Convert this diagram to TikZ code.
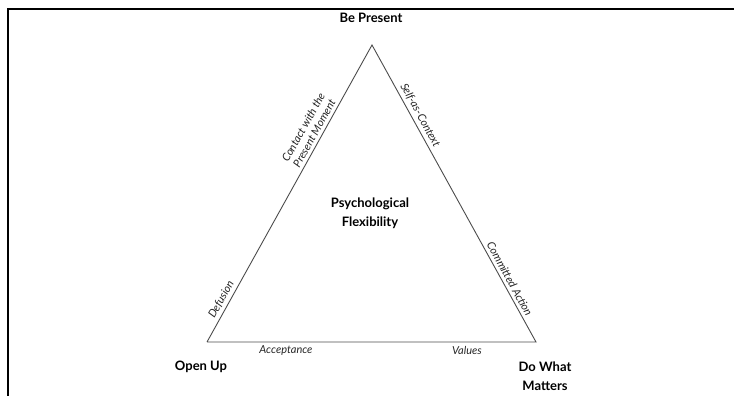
\documentclass[tikz,border=0pt]{standalone}
\usepackage{fontspec}
\setmainfont{Lato}
\begin{document}
\begin{tikzpicture}[x=1pt, y=-1pt,
	corner/.style={font=\bfseries\fontsize{13}{18.5}\selectfont, align=center},
	sidelab/.style={font=\itshape\fontsize{11}{12.5}\selectfont, text=black!85, sloped, above, inner sep=3pt, align=center},
	baselab/.style={font=\itshape\fontsize{11}{12.5}\selectfont, text=black!85, below, inner sep=3.5pt}]
	\useasboundingbox (0,0) rectangle (734,396);
	
	% Rahmen
	\draw[line width=2pt] (8,396) -- (8,9.5) -- (734,9.5);
	
	% Ecken des Dreiecks
	\coordinate (P) at (372,45);
	\coordinate (O) at (207,342);
	\coordinate (D) at (536,342);
	
	% Dreieck mit Beschriftung der Seiten
	\draw[black!70, line width=0.9pt] (O)
		-- node[sidelab, pos=0.13] (def) {Defusion}
		   node[sidelab, pos=0.69] (cpm) {Contact with the\\Present Moment} (P)
		-- node[sidelab, pos=0.25] (sac) {Self-as-Context}
		   node[sidelab, pos=0.80] (ca) {Committed Action} (D)
		-- node[baselab, pos=0.21] (val) {Values}
		   node[baselab, pos=0.76] (acc) {Acceptance} (O);
	
	% Beschriftung der Ecken
	\node[corner] (bp) at (371,18) {Be Present};
	\node[corner] (ou) at (201,367) {Open Up};
	\node[corner] (dwm) at (545,376) {Do What\\Matters};
	\node[corner] (pf) at (370,213.5) {Psychological\\Flexibility};
\end{tikzpicture}
\end{document}
